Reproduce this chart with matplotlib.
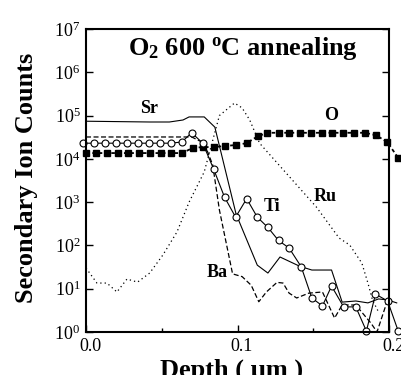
import matplotlib
matplotlib.use("Agg")
import matplotlib.pyplot as plt
import matplotlib.transforms as mtransforms

plt.rcParams['font.family'] = ['Liberation Serif', 'DejaVu Serif']
plt.rcParams['mathtext.fontset'] = 'custom'
plt.rcParams['mathtext.rm'] = 'Liberation Serif'
plt.rcParams['mathtext.bf'] = 'Liberation Serif:bold'
plt.rcParams['mathtext.it'] = 'Liberation Serif:italic'

# SIMS depth profiles (depth in um, counts)
ti_depth = [-0.002, 0.0053, 0.0125, 0.0197, 0.027, 0.0342, 0.0414, 0.0487, 0.0559, 0.0632,
            0.0697, 0.077, 0.0842, 0.0914, 0.0987, 0.106, 0.113, 0.120, 0.127, 0.134,
            0.142, 0.149, 0.156, 0.162, 0.170, 0.178, 0.185, 0.191, 0.199, 0.206]
ti_counts = [2.3e4, 2.3e4, 2.3e4, 2.3e4, 2.3e4, 2.3e4, 2.3e4, 2.3e4, 2.3e4, 2.45e4,
             4.0e4, 2.3e4, 5.8e3, 1.3e3, 4.5e2, 1.2e3, 4.5e2, 2.6e2, 1.3e2, 87,
             32, 6.1, 4.0, 11.5, 3.8, 3.8, 1.05, 7.5, 5.2, 1.05]

o_depth = [0.0, 0.0066, 0.0138, 0.0211, 0.0276, 0.0349, 0.0421, 0.0493, 0.0559, 0.0632,
           0.0704, 0.077, 0.0842, 0.0914, 0.0987, 0.1059, 0.1132, 0.1197, 0.127, 0.134,
           0.1414, 0.1487, 0.1559, 0.1625, 0.1697, 0.177, 0.1842, 0.1914, 0.1987, 0.206]
o_counts = [1.36e4, 1.36e4, 1.36e4, 1.36e4, 1.36e4, 1.36e4, 1.36e4, 1.36e4, 1.36e4, 1.36e4,
            1.78e4, 1.87e4, 1.87e4, 1.98e4, 2.08e4, 2.3e4, 3.3e4, 4.0e4, 4.0e4, 4.0e4,
            4.0e4, 4.0e4, 4.0e4, 4.0e4, 4.0e4, 4.0e4, 4.0e4, 3.5e4, 2.45e4, 1.05e4]

sr_depth = [0.0, 0.042, 0.055, 0.064, 0.068, 0.078, 0.085, 0.099, 0.113, 0.120,
            0.128, 0.141, 0.149, 0.162, 0.169, 0.178, 0.186, 0.193, 0.199, 0.205]
sr_counts = [7.4e4, 7.1e4, 7.1e4, 7.9e4, 9.3e4, 9.3e4, 5.4e4, 5.3e2, 35, 23,
             54, 33, 27, 27, 4.9, 5.2, 4.7, 5.8, 5.5, 4.7]

ba_depth = [0.0, 0.0697, 0.078, 0.0836, 0.088, 0.0967, 0.103, 0.109, 0.114, 0.119,
            0.126, 0.130, 0.134, 0.139, 0.147, 0.156, 0.164, 0.169, 0.178, 0.188,
            0.192, 0.199]
ba_counts = [3.2e4, 3.2e4, 2.3e4, 7.2e3, 6.6e2, 22, 19, 12, 5.0, 8.4,
             14, 13.5, 7.9, 6.1, 7.9, 8.4, 2.1, 4.2, 4.2, 1.6,
             1.0, 5.5]

ru_depth = [0.0, 0.0072, 0.0138, 0.0204, 0.027, 0.034, 0.042, 0.0507, 0.060, 0.068,
            0.078, 0.088, 0.098, 0.103, 0.108, 0.1145, 0.152, 0.167, 0.174, 0.182,
            0.186, 0.189, 0.193]
ru_counts = [30, 13.5, 13.5, 8.4, 16.7, 14.2, 23, 60, 204, 1.0e3,
             5.0e3, 1.0e5, 1.95e5, 1.5e5, 7.9e4, 2.3e4, 7.7e2, 148, 102, 39,
             13.5, 5.5, 2.9]

fig = plt.figure(figsize=(4.02, 3.75), dpi=100)
ax = fig.add_axes([0.214, 0.1147, 0.754, 0.808])

ax.plot(sr_depth, sr_counts, color='black', lw=0.8, clip_on=False)
ax.plot(ba_depth, ba_counts, color='black', lw=0.9, dashes=(4, 2), clip_on=False)
ax.plot(ru_depth, ru_counts, color='black', lw=0.9, dashes=(1, 2.5), clip_on=False)
ax.plot(o_depth, o_counts, color='black', lw=1.3, dashes=(2, 1.5), marker='s',
        ms=4, mfc='black', clip_on=False)
ax.plot(ti_depth, ti_counts, color='black', lw=0.8, marker='o', ms=5,
        mfc='white', mec='black', mew=0.8, clip_on=False)

ax.set_yscale('log')
ax.set_xlim(0, 0.2)
ax.set_ylim(1, 1e7)
ax.set_yticks([10 ** k for k in range(8)])
ax.set_yticklabels([r'$10^{%d}$' % k for k in range(8)])
ax.set_xticks([0.0, 0.1, 0.2])
ax.set_xticklabels(['0.0', '0.1', '0.2'])
ax.set_xticks([0.05, 0.15], minor=True)
ax.yaxis.set_minor_locator(matplotlib.ticker.NullLocator())
ax.tick_params(axis='both', which='major', direction='in', length=5, width=1,
               labelsize=13, right=True, top=False, pad=4)
ax.tick_params(axis='x', which='minor', direction='in', length=3, width=1)
for sp in ax.spines.values():
    sp.set_linewidth(1.5)

# nudge x tick labels a bit to the right
shift = mtransforms.ScaledTranslation(4 / 100, 0, fig.dpi_scale_trans)
for lab in ax.get_xticklabels():
    lab.set_transform(lab.get_transform() + shift)

ax.text(0.139, 0.914, r'$\mathbf{O_2\ 600\ ^{o}C\ annealing}$', transform=ax.transAxes,
        fontsize=19, ha='left', va='baseline')

lab_kw = dict(transform=ax.transAxes, fontsize=13, fontweight='bold',
              ha='center', va='center')
ax.text(0.208, 0.739, 'Sr', **lab_kw)
ax.text(0.809, 0.713, 'O', **lab_kw)
ax.text(0.614, 0.413, 'Ti', **lab_kw)
ax.text(0.789, 0.446, 'Ru', **lab_kw)
ax.text(0.432, 0.195, 'Ba', **lab_kw)

fig.text(0.065, 0.525, 'Secondary Ion Counts', rotation=90, fontsize=19,
         fontweight='bold', ha='center', va='center')
fig.text(0.577, 0.045, 'Depth ( \u00b5m )', fontsize=19, fontweight='bold',
         ha='center', va='top')

fig.savefig('out.png', dpi=100)
